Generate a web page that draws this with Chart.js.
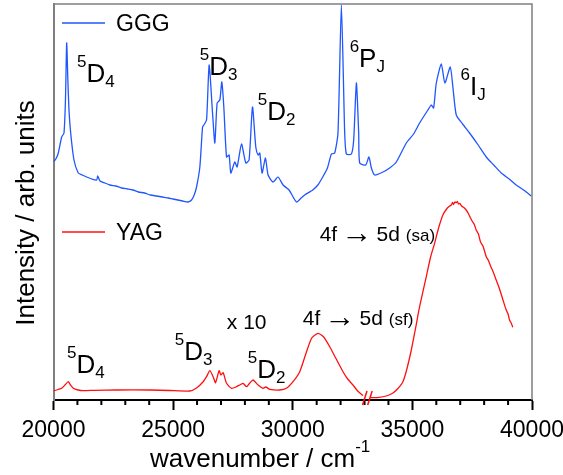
<!DOCTYPE html>
<html>
<head>
<meta charset="utf-8">
<script src="https://cdn.jsdelivr.net/npm/chart.js@4/dist/chart.umd.min.js"></script>
<style>
  html, body { margin: 0; padding: 0; background: #fff; }
  #wrap { width: 563px; height: 475px; }
</style>
</head>
<body>
<div id="wrap"><canvas id="spectra" width="563" height="475"></canvas></div>
<script>
// GGG excitation spectrum (wavenumber in cm-1, intensity in arb. units)
const gggWavenumber = [20000, 20033, 20120, 20200, 20342, 20438, 20500, 20551, 20600, 20647, 20718, 20856, 21035, 21200, 21386, 21600, 21804, 21850, 21942, 22150, 22359, 22600, 22850, 23100, 23319, 23550, 23800, 24050, 24309, 24550, 24800, 24990, 25200, 25400, 25616, 25770, 25880, 25979, 26117, 26230, 26284, 26397, 26505, 26647, 26743, 26839, 26952, 27035, 27119, 27232, 27340, 27411, 27578, 27675, 27858, 28038, 28175, 28317, 28455, 28551, 28622, 28718, 28860, 28969, 29177, 29386, 29595, 29845, 30154, 30350, 30501, 30835, 31050, 31253, 31450, 31616, 31754, 31891, 32033, 32171, 32242, 32451, 32547, 32660, 32756, 32797, 33048, 33186, 33286, 33424, 33770, 34050, 34330, 34747, 35050, 35303, 35649, 35791, 35887, 36000, 36209, 36359, 36584, 36693, 36835, 37100, 37390, 37750, 38088, 38400, 38714, 39050, 39340, 39650, 39967];
const gggIntensity = [239, 239, 242, 247, 263, 267, 300, 357, 320, 290, 267, 240, 227, 225, 223, 221, 220, 224, 219, 217, 215, 214, 212, 211, 210, 208, 207, 205, 204, 203, 202, 201, 200, 199, 198, 200, 205, 213, 233, 273, 275, 280, 335, 287, 257, 297, 300, 318, 293, 243, 245, 227, 238, 233, 256, 237, 240, 293, 253, 245, 247, 227, 242, 225, 218, 223, 215, 210, 198, 202, 205, 210, 215, 223, 232, 246, 247, 267, 395, 267, 246, 246, 260, 317, 267, 237, 235, 243, 232, 225, 228, 232, 238, 257, 266, 277, 290, 295, 292, 317, 336, 317, 333, 313, 285, 276, 267, 255, 243, 235, 227, 221, 215, 210, 204];

// YAG spectrum, x10 below the break; null marks the axis break
const yagWavenumber = [20000, 20188, 20342, 20480, 20618, 20710, 20827, 21023, 21244, 21733, 22639, 24029, 24864, 25699, 25979, 26255, 26397, 26534, 26672, 26772, 26923, 26994, 27090, 27232, 27440, 27649, 27787, 27925, 28067, 28205, 28342, 28551, 28760, 28873, 29040, 29457, 29736, 30012, 30292, 30572, 30793, 31056, 31294, 31545, 31795, 32100, 32296, 32517, 32714, 32935, 33100, 33230, 33614, 33906, 34170, 34376, 34604, 34759, 34955, 35135, 35302, 35582, 35761, 35928, 36095, 36275, 36429, 36530, 36625, 36680, 36721, 36780, 36834, 36880, 36930, 36990, 37055, 37150, 37251, 37340, 37431, 37520, 37590, 37669, 37760, 37849, 37950, 38087, 38170, 38267, 38380, 38504, 38600, 38684, 38800, 38922, 39000, 39060, 39130, 39198];
const yagIntensity = [9, 10.5, 11.7, 15, 18.3, 15, 11.7, 10, 9.3, 9.7, 10, 10, 9.5, 9, 12, 18.3, 23.3, 29.3, 23.3, 17.3, 29.3, 25, 27.3, 16.7, 11.7, 13.3, 15, 16.7, 13.3, 17, 20, 15, 11.7, 13, 10.7, 10, 11.7, 18.3, 28.3, 48, 62, 66.7, 63, 53.3, 42, 28.3, 21, 15, 9, 4.5, null, 2.3, 2.7, 4, 6.7, 11, 18.3, 30, 50, 72, 93.3, 123.3, 143, 156.7, 172, 185, 191, 193.5, 195, 197.5, 195.5, 198, 197.3, 198.5, 196, 196.5, 194, 192.5, 190, 186.5, 182, 178, 175.5, 170, 166, 158, 154, 143.3, 140, 134, 128, 120, 114, 108, 99, 90, 86, 80, 77, 72.7];

const xTickValues = [20000, 25000, 30000, 35000, 40000];
const xMinorStep = 1000;
const axisBreaks = [33020, 33236];

// term labels: superscript, letter, subscript, anchored at data coordinates
const termLabels = [
  { sup: '5', main: 'D', sub: '4', x: 20981, y: 318 },
  { sup: '5', main: 'D', sub: '3', x: 26116, y: 325 },
  { sup: '5', main: 'D', sub: '2', x: 28538, y: 280 },
  { sup: '6', main: 'P', sub: 'J', x: 32379, y: 333 },
  { sup: '6', main: 'I', sub: 'J', x: 37013, y: 305 },
  { sup: '5', main: 'D', sub: '4', x: 20564, y: 27 },
  { sup: '5', main: 'D', sub: '3', x: 25073, y: 40 },
  { sup: '5', main: 'D', sub: '2', x: 28120, y: 22 }
];
const bandLabels = [
  { parts: ['4f\u2009', '\u2192', '\u20095d '], note: '(sf)', x: 30416, y: 75 },
  { parts: ['4f\u2009', '\u2192', '\u20095d '], note: '(sa)', x: 31126, y: 159 },
  { parts: ['x 10'], note: '', x: 27244, y: 71 }
];
const legendItems = [
  { name: 'GGG', x: 20355, y: 377 },
  { name: 'YAG', x: 20355, y: 168 }
];

const FONT = '"Liberation Sans", Arial, sans-serif';
const BLUE = '#1f56ff';
const RED = '#ff1010';

const toPoints = (xs, ys) => xs.map((v, i) => ({ x: v, y: ys[i] }));

const decorations = {
  id: 'decorations',
  afterDatasetsDraw(chart) {
    const { ctx, chartArea: area, scales: { x, y } } = chart;
    ctx.save();

    // grey frame on top and right
    ctx.strokeStyle = '#7f7f7f';
    ctx.lineWidth = 1.5;
    ctx.beginPath();
    ctx.moveTo(area.left, area.top);
    ctx.lineTo(area.right, area.top);
    ctx.lineTo(area.right, area.bottom);
    ctx.stroke();

    // short minor ticks
    ctx.strokeStyle = '#000';
    ctx.lineWidth = 2;
    for (let v = x.min + xMinorStep; v < x.max; v += xMinorStep) {
      if (xTickValues.includes(v)) continue;
      const px = x.getPixelForValue(v);
      ctx.beginPath();
      ctx.moveTo(px, area.bottom);
      ctx.lineTo(px, area.bottom + 5);
      ctx.stroke();
    }

    // break marks on the YAG trace
    ctx.strokeStyle = RED;
    ctx.lineWidth = 1.5;
    axisBreaks.forEach(v => {
      const px = x.getPixelForValue(v);
      ctx.beginPath();
      ctx.moveTo(px - 2.5, area.bottom + 5);
      ctx.lineTo(px + 2, area.bottom - 9);
      ctx.stroke();
    });

    ctx.fillStyle = '#000';
    ctx.textBaseline = 'alphabetic';
    ctx.textAlign = 'left';

    termLabels.forEach(t => {
      const px = x.getPixelForValue(t.x);
      const py = y.getPixelForValue(t.y);
      ctx.font = '17px ' + FONT;
      ctx.fillText(t.sup, px, py - 15);
      const w1 = ctx.measureText(t.sup).width;
      ctx.font = '26px ' + FONT;
      ctx.fillText(t.main, px + w1, py);
      const w2 = ctx.measureText(t.main).width;
      ctx.font = '17px ' + FONT;
      ctx.fillText(t.sub, px + w1 + w2, py + 5);
    });

    // band labels; the arrow is set larger so it runs as long as in print
    bandLabels.forEach(b => {
      let px = x.getPixelForValue(b.x);
      const py = y.getPixelForValue(b.y);
      b.parts.forEach(p => {
        const isArrow = p === '\u2192';
        ctx.font = (isArrow ? '31px ' : '21px ') + FONT;
        ctx.fillText(p, px, isArrow ? py + 2 : py);
        px += ctx.measureText(p).width;
      });
      ctx.font = '17px ' + FONT;
      ctx.fillText(b.note, px, py);
    });

    // legend entries next to each trace
    chart.data.datasets.forEach((ds, i) => {
      const item = legendItems[i];
      const px = x.getPixelForValue(item.x);
      const py = y.getPixelForValue(item.y);
      ctx.strokeStyle = ds.borderColor;
      ctx.lineWidth = 1.3;
      ctx.beginPath();
      ctx.moveTo(px, py);
      ctx.lineTo(px + 43, py);
      ctx.stroke();
      ctx.font = '23px ' + FONT;
      ctx.fillText(item.name, px + 54, py + 8);
    });

    // axis titles
    ctx.font = '26px ' + FONT;
    ctx.save();
    ctx.translate(34, (area.top + area.bottom) / 2 + 11);
    ctx.rotate(-Math.PI / 2);
    ctx.textAlign = 'center';
    ctx.fillText('Intensity / arb. units', 0, 0);
    ctx.restore();

    const xTitle = 'wavenumber / cm';
    const tx = 150, ty = 467;
    ctx.fillText(xTitle, tx, ty);
    const tw = ctx.measureText(xTitle).width;
    ctx.font = '17px ' + FONT;
    ctx.fillText('-1', tx + tw, ty - 15);

    ctx.restore();
  }
};

new Chart(document.getElementById('spectra'), {
  type: 'line',
  data: {
    datasets: [
      {
        label: 'GGG',
        data: toPoints(gggWavenumber, gggIntensity),
        borderColor: BLUE,
        borderWidth: 1.3,
        pointRadius: 0,
        tension: 0.2,
        fill: false
      },
      {
        label: 'YAG',
        data: toPoints(yagWavenumber, yagIntensity),
        borderColor: RED,
        borderWidth: 1.3,
        pointRadius: 0,
        tension: 0.2,
        spanGaps: false,
        fill: false
      }
    ]
  },
  options: {
    responsive: false,
    animation: false,
    devicePixelRatio: 1,
    layout: { padding: { left: 0, right: 31, top: 4, bottom: 0 } },
    plugins: { legend: { display: false }, tooltip: { enabled: false } },
    scales: {
      x: {
        type: 'linear',
        min: 20000,
        max: 40000,
        afterBuildTicks: scale => { scale.ticks = xTickValues.map(v => ({ value: v })); },
        afterFit: scale => { scale.height = 75; scale.paddingLeft = 0; scale.paddingRight = 0; },
        ticks: {
          callback: v => String(v),
          color: '#000',
          font: { size: 23, family: FONT },
          padding: 7,
          maxRotation: 0,
          autoSkip: false
        },
        grid: {
          drawOnChartArea: false,
          drawTicks: true,
          tickLength: 10,
          tickColor: '#000',
          tickWidth: 2
        },
        border: { display: true, color: '#000', width: 2 }
      },
      y: {
        min: 0,
        max: 396,
        afterFit: scale => { scale.width = 53.5; },
        ticks: { display: false },
        grid: { display: false },
        border: { display: true, color: '#7f7f7f', width: 2 }
      }
    }
  },
  plugins: [decorations]
});
</script>
</body>
</html>
